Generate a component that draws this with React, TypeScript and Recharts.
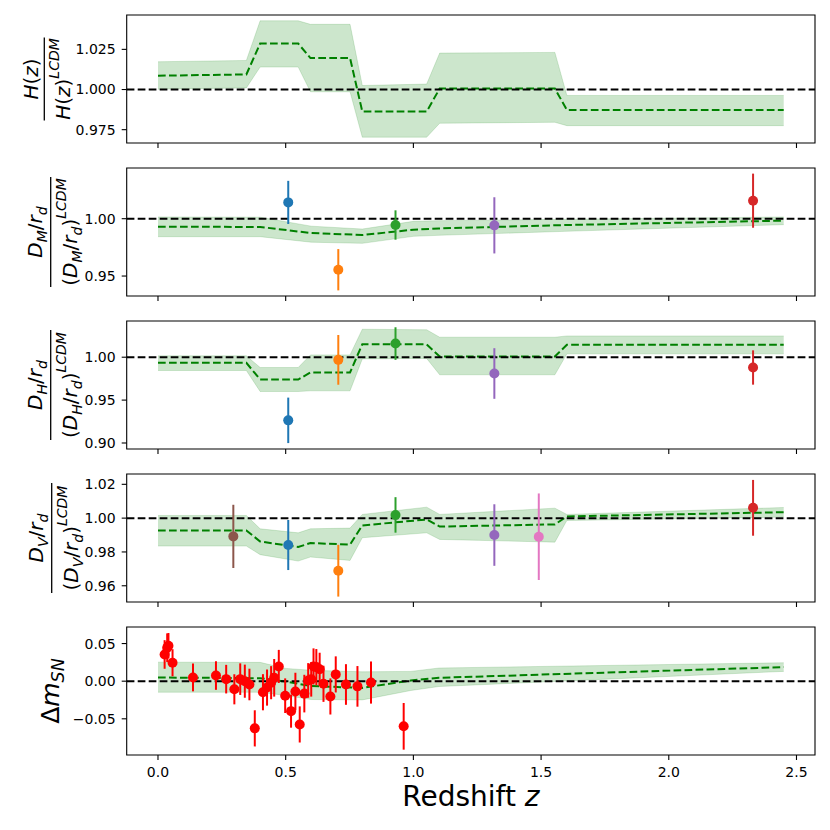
import React from 'react';
import {
  ComposedChart, Line, Area, Scatter, ErrorBar, XAxis, YAxis,
  ReferenceLine, ReferenceArea,
} from 'recharts';

const FONT = "'DejaVu Sans', sans-serif";
const GREEN = '#008000';
const DASH = '7.7 3.3';

const X_DOMAIN: [number, number] = [-0.1225, 2.5725];
const X_TICKS = [0, 0.5, 1, 1.5, 2, 2.5];

// Reconstruction bands (bin edges in redshift)
const BIN_Z = [0, 0.346, 0.40, 0.549, 0.597, 0.752, 0.80, 1.052, 1.103, 1.554, 1.601, 2.45];

const H_MID = [1.0086, 1.0094, 1.0286, 1.0286, 1.0196, 1.0196, 0.9863, 0.9863, 1.0006, 1.0006, 0.9873, 0.9873];
const H_HI = [1.0173, 1.0181, 1.0428, 1.0428, 1.0406, 1.0406, 1.0025, 1.0034, 1.0227, 1.0231, 0.9963, 0.9963];
const H_LO = [1.0002, 1.0010, 1.0140, 1.0140, 0.9986, 0.9986, 0.9703, 0.9703, 0.9790, 0.9796, 0.9775, 0.9775];

const DM_Z = [0, 0.40, 0.60, 0.80, 1.0, 1.10, 1.60, 2.45];
const DM_MID = [0.9930, 0.9928, 0.9875, 0.9858, 0.9904, 0.9915, 0.9945, 0.9983];
const DM_HI = [1.0015, 1.0013, 0.9935, 0.9910, 0.9977, 0.9983, 0.9995, 1.0015];
const DM_LO = [0.9843, 0.9843, 0.9795, 0.9785, 0.9846, 0.9855, 0.9890, 0.9948];

const DH_MID = [0.9934, 0.9934, 0.9740, 0.9740, 0.9822, 0.9822, 1.0151, 1.0150, 1.0008, 1.0008, 1.0145, 1.0145];
const DH_HI = [1.0016, 1.0016, 0.9880, 0.9880, 1.0027, 1.0027, 1.0326, 1.0320, 1.0233, 1.0233, 1.0248, 1.0248];
const DH_LO = [0.9845, 0.9845, 0.9600, 0.9600, 0.9608, 0.9608, 0.9980, 0.9985, 0.9795, 0.9795, 1.0039, 1.0039];

const DV_MID = [0.9927, 0.9927, 0.9862, 0.9829, 0.9853, 0.9843, 0.9957, 0.9992, 0.9950, 0.9963, 1.0010, 1.0035];
const DV_HI = [1.0016, 1.0016, 0.9937, 0.9913, 0.9937, 0.9941, 1.0022, 1.0065, 1.0022, 1.0059, 1.0022, 1.0063];
const DV_LO = [0.9835, 0.9835, 0.9784, 0.9746, 0.9770, 0.9750, 0.9884, 0.9913, 0.9874, 0.9858, 0.9986, 1.0006];

const SNB_Z = [0, 0.40, 0.50, 0.60, 0.80, 0.99, 1.10, 2.45];
const SNB_MID = [0.0049, 0.0039, -0.0005, -0.0065, -0.0089, 0.0009, 0.0045, 0.0187];
const SNB_HI = [0.0253, 0.0250, 0.0170, 0.0145, 0.0125, 0.0130, 0.0175, 0.0245];
const SNB_LO = [-0.0147, -0.0147, -0.0190, -0.0244, -0.0249, -0.0124, -0.0071, 0.0130];

// BAO measurements
const C_BLUE = '#1f77b4';
const C_ORANGE = '#ff7f0e';
const C_GREEN = '#2ca02c';
const C_RED = '#d62728';
const C_PURPLE = '#9467bd';
const C_BROWN = '#8c564b';
const C_PINK = '#e377c2';

const DM_PT_Z = [0.51, 0.706, 0.93, 1.317, 2.33];
const DM_PT_V = [1.0142, 0.9555, 0.9945, 0.9942, 1.0157];
const DM_PT_E = [0.0188, 0.0180, 0.0128, 0.0245, 0.0236];
const DM_PT_C = [C_BLUE, C_ORANGE, C_GREEN, C_PURPLE, C_RED];

const DH_PT_Z = [0.51, 0.706, 0.93, 1.317, 2.33];
const DH_PT_V = [0.9264, 0.9969, 1.0159, 0.9810, 0.9880];
const DH_PT_E = [0.0265, 0.0290, 0.0190, 0.0295, 0.0200];
const DH_PT_C = [C_BLUE, C_ORANGE, C_GREEN, C_PURPLE, C_RED];

const DV_PT_Z = [0.295, 0.51, 0.706, 0.93, 1.317, 1.491, 2.33];
const DV_PT_V = [0.9892, 0.9841, 0.9689, 1.0019, 0.9900, 0.9890, 1.0061];
const DV_PT_E = [0.0187, 0.0148, 0.0153, 0.0105, 0.0182, 0.0256, 0.0165];
const DV_PT_C = [C_BROWN, C_BLUE, C_ORANGE, C_GREEN, C_PURPLE, C_PINK, C_RED];

// Supernova residuals
const SN_Z = [0.026, 0.036, 0.041, 0.057, 0.137, 0.227, 0.267, 0.299, 0.322, 0.340, 0.358, 0.379, 0.411, 0.427, 0.443, 0.455, 0.473, 0.498, 0.521, 0.538, 0.555, 0.573, 0.588, 0.600, 0.609, 0.620, 0.633, 0.648, 0.675, 0.696, 0.736, 0.781, 0.834, 0.962];
const SN_V = [0.0355, 0.0445, 0.0470, 0.0245, 0.0050, 0.0075, 0.0027, -0.0108, 0.0027, 0.0000, -0.0044, -0.0627, -0.0147, -0.0085, -0.0020, 0.0045, 0.0196, -0.0193, -0.0398, -0.0138, -0.0575, -0.0165, 0.0010, 0.0025, 0.0196, 0.0187, 0.0158, -0.0035, -0.0203, 0.0090, -0.0044, -0.0069, -0.0018, -0.0600];
const SN_E = [0.019, 0.019, 0.017, 0.018, 0.0185, 0.019, 0.019, 0.020, 0.021, 0.022, 0.021, 0.024, 0.024, 0.024, 0.022, 0.025, 0.022, 0.023, 0.022, 0.025, 0.024, 0.025, 0.023, 0.023, 0.024, 0.024, 0.022, 0.024, 0.024, 0.024, 0.027, 0.027, 0.028, 0.031];

const mkBand = (zs: number[], mid: number[], lo: number[], hi: number[]) =>
  zs.map((rz, i) => ({ rz, v: mid[i], lo: lo[i], hi: hi[i] }));
const mkPts = (zs: number[], vs: number[], es: number[], cs: string[] | string) =>
  zs.map((rz, i) => ({ rz, v: vs[i], err: es[i], color: Array.isArray(cs) ? cs[i] : cs }));

const SUBFS = 14;
const MAINFS = 20;

function HLabel(props: any) {
  const vb = props.viewBox;
  const cy = vb && vb.height ? vb.y + vb.height / 2 : 74;
  return (
    <g transform={`translate(44.3, ${cy}) rotate(-90)`} fontFamily={FONT} fill="#000">
      <text x={0} y={-6.6} textAnchor="middle" fontSize={MAINFS}>
        <tspan fontStyle="italic">H</tspan>
        <tspan>(</tspan>
        <tspan fontStyle="italic">z</tspan>
        <tspan>)</tspan>
      </text>
      <line x1={-41.5} x2={41.5} y1={0} y2={0} stroke="#000" strokeWidth={1.3} />
      <text x={0} y={25.7} textAnchor="middle" fontSize={MAINFS}>
        <tspan fontStyle="italic">H</tspan>
        <tspan>(</tspan>
        <tspan fontStyle="italic">z</tspan>
        <tspan>)</tspan>
        <tspan fontStyle="italic" fontSize={SUBFS} dy={-11}>LCDM</tspan>
      </text>
    </g>
  );
}

function DLabel(props: any) {
  const vb = props.viewBox;
  const cy = vb && vb.height ? vb.y + vb.height / 2 : 74;
  const s = props.sub;
  return (
    <g transform={`translate(${props.cx}, ${cy}) rotate(-90)`} fontFamily={FONT} fill="#000">
      <text x={0} y={-9} textAnchor="middle" fontSize={MAINFS}>
        <tspan fontStyle="italic">D</tspan>
        <tspan fontStyle="italic" fontSize={SUBFS} dy={5}>{s}</tspan>
        <tspan dy={-5}>/</tspan>
        <tspan fontStyle="italic">r</tspan>
        <tspan fontStyle="italic" fontSize={SUBFS} dy={5}>d</tspan>
      </text>
      <line x1={-55} x2={55} y1={0} y2={0} stroke="#000" strokeWidth={1.3} />
      <text x={0} y={26} textAnchor="middle" fontSize={MAINFS}>
        <tspan>(</tspan>
        <tspan fontStyle="italic">D</tspan>
        <tspan fontStyle="italic" fontSize={SUBFS} dy={5}>{s}</tspan>
        <tspan dy={-5}>/</tspan>
        <tspan fontStyle="italic">r</tspan>
        <tspan fontStyle="italic" fontSize={SUBFS} dy={5}>d</tspan>
        <tspan dy={-5}>)</tspan>
        <tspan fontStyle="italic" fontSize={SUBFS} dy={-11}>LCDM</tspan>
      </text>
    </g>
  );
}

function SNLabel(props: any) {
  const vb = props.viewBox;
  const cy = vb && vb.height ? vb.y + vb.height / 2 : 74;
  return (
    <g transform={`translate(59.3, ${cy}) rotate(-90)`} fontFamily={FONT} fill="#000">
      <text x={0} y={0} textAnchor="middle" fontSize={25}>
        <tspan>Δ</tspan>
        <tspan fontStyle="italic">m</tspan>
        <tspan fontStyle="italic" fontSize={17.5} dy={5}>SN</tspan>
      </text>
    </g>
  );
}

function XLabel(props: any) {
  const vb = props.viewBox;
  const cx = vb && vb.width ? vb.x + vb.width / 2 : 470.9;
  const y = vb && vb.height ? vb.y + 51.3 : 189.3;
  return (
    <text x={cx} y={y} textAnchor="middle" fontSize={28} fontFamily={FONT} fill="#000">
      <tspan>Redshift </tspan>
      <tspan fontStyle="italic">z</tspan>
    </text>
  );
}

type PanelProps = {
  top: number;
  band: any[];
  points: any[];
  yDomain: [number, number];
  yTicks: number[];
  yFmt: (v: number) => string;
  refY: number;
  label: React.ReactElement;
  bottom?: boolean;
};

const tickStyle = { fill: '#000', fontSize: 14, fontFamily: FONT };

function Panel({ top, band, points, yDomain, yTicks, yFmt, refY, label, bottom }: PanelProps) {
  const xh = bottom ? 62 : 30;
  const h = 10 + 128 + xh;
  return (
    <div style={{ position: 'absolute', left: 0, top }}>
      <ComposedChart width={830} height={h} margin={{ top: 10, right: 15, left: 0, bottom: 0 }}>
        <XAxis
          type="number"
          dataKey="rz"
          domain={X_DOMAIN}
          ticks={X_TICKS}
          allowDataOverflow
          height={xh}
          axisLine={false}
          tickLine={{ stroke: '#000', strokeWidth: 1.1 }}
          tickSize={5}
          tickMargin={7}
          tick={tickStyle}
          tickFormatter={bottom ? (v: number) => v.toFixed(1) : () => ''}
          label={bottom ? <XLabel /> : undefined}
        />
        <YAxis
          type="number"
          dataKey="v"
          domain={yDomain}
          ticks={yTicks}
          allowDataOverflow
          width={126.7}
          axisLine={false}
          tickLine={{ stroke: '#000', strokeWidth: 1.1 }}
          tickSize={5}
          tickMargin={6}
          tick={tickStyle}
          tickFormatter={yFmt}
          label={label}
        />
        <Area
          data={band}
          dataKey={(d: any) => [d.lo, d.hi]}
          type="linear"
          fill={GREEN}
          fillOpacity={0.2}
          stroke={GREEN}
          strokeOpacity={0.15}
          strokeWidth={1}
          isAnimationActive={false}
        />
        <Line
          data={band}
          dataKey="v"
          type="linear"
          stroke={GREEN}
          strokeWidth={2}
          strokeDasharray={DASH}
          dot={false}
          activeDot={false}
          isAnimationActive={false}
        />
        <ReferenceLine y={refY} stroke="#000" strokeWidth={2} strokeDasharray={DASH} />
        {points.map((p, i) => (
          <Scatter
            key={i}
            data={[p]}
            fill={p.color}
            isAnimationActive={false}
            shape={(sp: any) => <circle cx={sp.cx} cy={sp.cy} r={5} fill={p.color} />}
          >
            <ErrorBar dataKey="err" direction="y" width={0} stroke={p.color} strokeWidth={2} isAnimationActive={false} />
          </Scatter>
        ))}
        <ReferenceArea
          x1={X_DOMAIN[0]}
          x2={X_DOMAIN[1]}
          y1={yDomain[0]}
          y2={yDomain[1]}
          fill="none"
          fillOpacity={0}
          stroke="#000"
          strokeWidth={1.1}
          strokeOpacity={1}
        />
      </ComposedChart>
    </div>
  );
}

const fmt3 = (v: number) => v.toFixed(3);
const fmt2 = (v: number) => v.toFixed(2);
const fmtSN = (v: number) => (v < 0 ? '\u2212' + Math.abs(v).toFixed(2) : v.toFixed(2));

export default function App() {
  const hBand = mkBand(BIN_Z, H_MID, H_LO, H_HI);
  const dmBand = mkBand(DM_Z, DM_MID, DM_LO, DM_HI);
  const dhBand = mkBand(BIN_Z, DH_MID, DH_LO, DH_HI);
  const dvBand = mkBand(BIN_Z, DV_MID, DV_LO, DV_HI);
  const snBand = mkBand(SNB_Z, SNB_MID, SNB_LO, SNB_HI);

  const dmPts = mkPts(DM_PT_Z, DM_PT_V, DM_PT_E, DM_PT_C);
  const dhPts = mkPts(DH_PT_Z, DH_PT_V, DH_PT_E, DH_PT_C);
  const dvPts = mkPts(DV_PT_Z, DV_PT_V, DV_PT_E, DV_PT_C);
  const snPts = mkPts(SN_Z, SN_V, SN_E, '#ff0000');

  return (
    <div style={{ position: 'absolute', left: 0, top: 0, width: 830, height: 830, background: '#fff', fontFamily: FONT }}>
      <Panel top={5} band={hBand} points={[]} yDomain={[0.9667, 1.0464]} yTicks={[0.975, 1.0, 1.025]} yFmt={fmt3} refY={1} label={<HLabel />} />
      <Panel top={158.3} band={dmBand} points={dmPts} yDomain={[0.9326, 1.0442]} yTicks={[0.95, 1.0]} yFmt={fmt2} refY={1} label={<DLabel sub="M" cx={50.7} />} />
      <Panel top={310.7} band={dhBand} points={dhPts} yDomain={[0.893, 1.0422]} yTicks={[0.9, 0.95, 1.0]} yFmt={fmt2} refY={1} label={<DLabel sub="H" cx={50.7} />} />
      <Panel top={463.7} band={dvBand} points={dvPts} yDomain={[0.9504, 1.0261]} yTicks={[0.96, 0.98, 1.0, 1.02]} yFmt={fmt2} refY={1} label={<DLabel sub="V" cx={51.7} />} />
      <Panel top={616.7} band={snBand} points={snPts} yDomain={[-0.0981, 0.072]} yTicks={[-0.05, 0, 0.05]} yFmt={fmtSN} refY={0} label={<SNLabel />} bottom />
    </div>
  );
}
